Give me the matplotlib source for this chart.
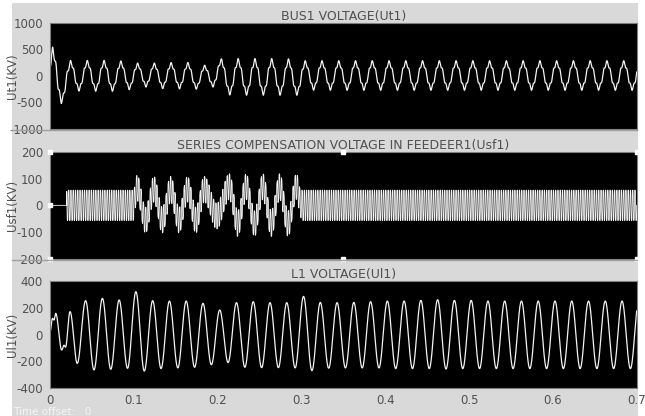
import numpy as np
import matplotlib
matplotlib.use("Agg")
import matplotlib.pyplot as plt
from matplotlib.patches import Rectangle
from matplotlib.lines import Line2D

# ---------------- data ----------------
F_SYS = 50.0            # system frequency (Hz)
T_END = 0.7
x_ticks = [0, 0.1, 0.2, 0.3, 0.4, 0.5, 0.6, 0.7]
x_tick_labels = ["0", "0.1", "0.2", "0.3", "0.4", "0.5", "0.6", "0.7"]

titles = ["BUS1 VOLTAGE(Ut1)",
          "SERIES COMPENSATION VOLTAGE IN FEEDEER1(Usf1)",
          "L1 VOLTAGE(Ul1)"]
ylabels = ["Ut1(KV)", "Usf1(KV)", "Ul1(KV)"]
yticks_1 = [-1000, -500, 0, 500, 1000]
yticks_2 = [-200, -100, 0, 100, 200]
yticks_3 = [-400, -200, 0, 200, 400]

# Ut1: start transient extrema, then per-cycle peaks (first at 0.0245 s) and troughs (first at 0.0345 s)
ut1_start_t = [0.0, 0.003, 0.0135]
ut1_start_v = [100, 540, -520]
ut1_peak_t0, ut1_trough_t0 = 0.0245, 0.0345
ut1_peaks = [290, 290, 290, 280, 240, 240, 250, 250, 200,
             320, 325, 325, 325, 320,
             285, 285, 285, 285, 285, 285, 285, 285, 285, 285, 285,
             285, 285, 285, 285, 285, 285, 285, 285, 285, 285]
ut1_troughs = [-285, -290, -290, -260, -210, -240, -245, -250, -210,
               -360, -364, -364, -364, -364,
               -270, -272, -272, -272, -272, -272, -272, -272, -272, -272,
               -272, -272, -272, -272, -272, -272, -272, -272, -272, -272]

# Usf1: 50 Hz component extrema + high-frequency band half-amplitude
usf_lf_t = [0.0, 0.099, 0.104, 0.114, 0.124, 0.134, 0.144, 0.154, 0.164, 0.174,
            0.184, 0.199, 0.214, 0.224, 0.234, 0.244, 0.254, 0.264, 0.274, 0.284,
            0.294, 0.300, 0.7]
usf_lf_v = [0, 0, 65, -55, 60, -55, 60, -55, 60, -55,
            60, -40, 70, -68, 70, -68, 70, -68, 70, -68,
            70, 0, 0]
usf_hf_edges = [0.0, 0.02, 0.1, 0.3, 0.7]
usf_hf_amp = [0, 57, 48, 57]
USF_HF_FREQ = 370.0

# Ul1: start transient extrema, then per-cycle peaks (first at 0.0425 s) and troughs (first at 0.0525 s)
ul1_start_t = [0.0, 0.003, 0.0048, 0.0068, 0.014, 0.0167, 0.0185, 0.0239, 0.0325]
ul1_start_v = [20, 121, 108, 158, -116, -80, -95, 171, -216]
ul1_peak_t0, ul1_trough_t0 = 0.0425, 0.0525
ul1_peaks = [253, 270, 258, 320, 253, 250, 250, 233, 183, 238, 245, 238, 238,
             285, 240, 238, 240, 245, 250, 250, 255, 260, 255, 255, 250,
             250, 250, 250, 250, 250, 250, 250, 250, 250, 250]
ul1_troughs = [-265, -260, -253, -273, -255, -250, -245, -226, -210, -245,
               -248, -248, -250, -270, -252, -250, -250, -250, -255, -255,
               -255, -258, -255, -255, -255, -255, -255, -255, -255, -255,
               -255, -255, -255]


# ---------------- helpers ----------------
def merge_extrema(start_t, start_v, p_t0, peaks, tr_t0, troughs):
    period = 1.0 / F_SYS
    tp = [p_t0 + period * k for k in range(len(peaks))]
    tt = [tr_t0 + period * k for k in range(len(troughs))]
    pts = list(zip(start_t, start_v)) + list(zip(tp, peaks)) + list(zip(tt, troughs))
    pts.sort()
    return np.array([p[0] for p in pts]), np.array([p[1] for p in pts], float)


def wave(t, tk, vk, harm=0.0):
    idx = np.clip(np.searchsorted(tk, t, side="right") - 1, 0, len(tk) - 2)
    t0, t1 = tk[idx], tk[idx + 1]
    v0, v1 = vk[idx], vk[idx + 1]
    phi = np.pi * np.clip((t - t0) / (t1 - t0), 0, 1)
    g = (np.cos(phi) + harm * np.cos(5 * phi)) / (1 + harm)
    return (v0 + v1) / 2 + (v0 - v1) / 2 * g


t = np.arange(0, T_END + 1e-9, 2e-5)

tk1, vk1 = merge_extrema(ut1_start_t, ut1_start_v, ut1_peak_t0, ut1_peaks,
                         ut1_trough_t0, ut1_troughs)
ut1 = wave(t, tk1, vk1, harm=0.16)

lf = wave(t, np.array(usf_lf_t), np.array(usf_lf_v, float))
amp = np.array(usf_hf_amp, float)[np.clip(np.searchsorted(usf_hf_edges, t, side="right") - 1, 0, len(usf_hf_amp) - 1)]
carrier = np.tanh(2.5 * np.sin(2 * np.pi * USF_HF_FREQ * t)) / np.tanh(2.5)
usf = lf + amp * carrier

tk3, vk3 = merge_extrema(ul1_start_t, ul1_start_v, ul1_peak_t0, ul1_peaks,
                         ul1_trough_t0, ul1_troughs)
ul1 = wave(t, tk3, vk3)

# ---------------- figure ----------------
W, H = 645, 416
fig = plt.figure(figsize=(W / 100, H / 100), dpi=100, facecolor="white")
plt.rcParams["font.family"] = ["DejaVu Sans"]

bg = "#d9d9d9"
fig.patches.append(Rectangle((12 / W, 0), (638 - 12) / W, 1 - 3 / H,
                             transform=fig.transFigure, facecolor=bg,
                             edgecolor="none", zorder=-10))
for ypx in (130, 260):
    fig.lines.append(Line2D([12 / W, 637 / W], [1 - ypx / H, 1 - ypx / H],
                            transform=fig.transFigure, color="#a0a0a0", lw=1))

left = 50 / W
width = (636.7 - 50) / W
boxes = [(22.7, 129), (151.7, 259), (281, 388)]
data = [ut1, usf, ul1]
lws = [0.9, 0.6, 0.9]
yt = [yticks_1, yticks_2, yticks_3]
txt_col = "#505050"

axes = []
for i, (top, bot) in enumerate(boxes):
    ax = fig.add_axes([left, 1 - bot / H, width, (bot - top) / H])
    ax.set_facecolor("black")
    ax.plot(t, data[i], color="#f4f4f4", lw=lws[i])
    ax.set_xlim(0, T_END)
    ax.set_ylim(yt[i][0], yt[i][-1])
    ax.set_yticks(yt[i])
    ax.set_yticklabels([str(v) for v in yt[i]])
    ax.set_xticks(x_ticks)
    if i == 2:
        ax.set_xticklabels(x_tick_labels)
    else:
        ax.set_xticklabels([])
    ax.tick_params(length=0, labelsize=8.5, labelcolor=txt_col, pad=5)
    ax.tick_params(axis="x", pad=4)
    for s in ax.spines.values():
        s.set_color("#808080")
        s.set_linewidth(0.8)
    ax.set_title(titles[i], fontsize=9, color=txt_col, pad=2)
    ax.set_ylabel(ylabels[i], fontsize=8.5, color=txt_col)
    ax.yaxis.set_label_coords(-0.052, 0.5)
    axes.append(ax)

# white markers on the middle scope
ax2 = axes[1]
for (xm, ym) in [(0.35, 200), (0.35, -200), (0.7, 200), (0.7, -200)]:
    ax2.plot([xm], [ym], marker="s", ms=2.5, color="white", clip_on=False, zorder=5)
for ym in (200, 0, -200):
    ax2.plot([0], [ym], marker="s", ms=2.5, color="white", clip_on=False, zorder=5)

fig.text(13 / W, 1 - 412 / H, "Time offset:   0", color="#f5f5f5",
         fontsize=7.5, ha="left", va="center")

fig.savefig("out.png", dpi=100, facecolor=fig.get_facecolor())
